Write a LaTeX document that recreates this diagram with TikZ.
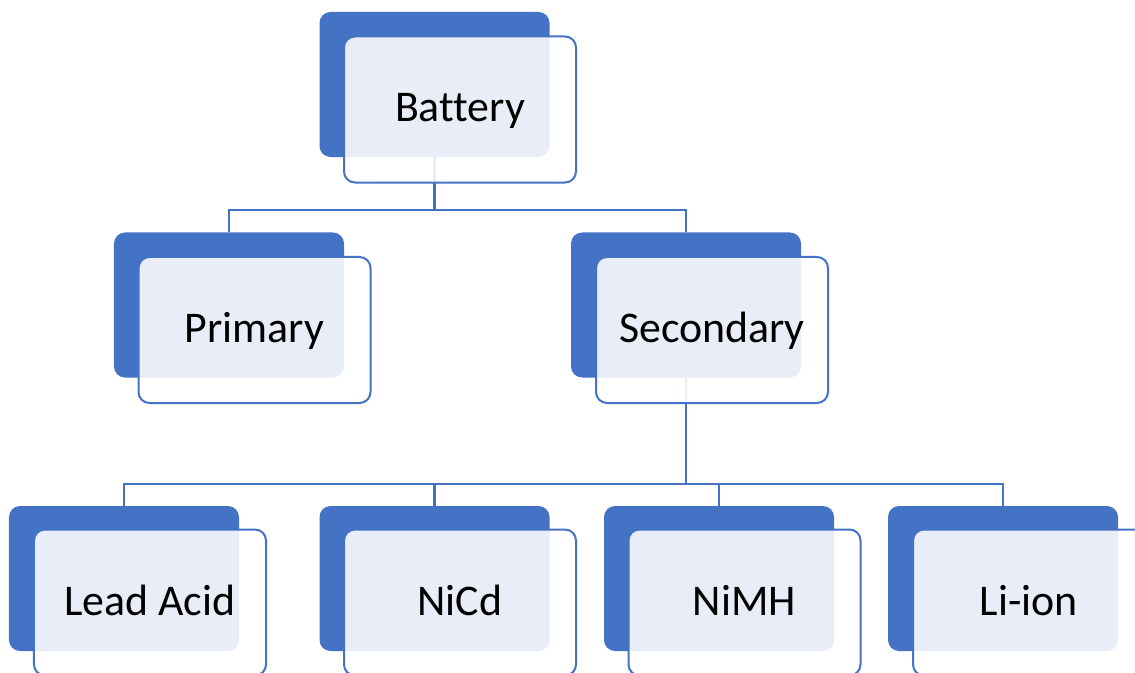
\documentclass[tikz,border=0pt]{standalone}
\usepackage{fontspec}
\setmainfont[Ligatures={NoCommon}]{Carlito}
\definecolor{obl}{HTML}{4472C4}
\begin{document}
\begin{tikzpicture}[x=1bp,y=-1bp,
  backbox/.style={rectangle,rounded corners=11bp,fill=obl,draw=none,inner sep=0,minimum width=230bp,minimum height=145bp},
  frontbox/.style={rectangle,rounded corners=11bp,draw=obl,line width=2bp,fill=white,fill opacity=0.88,draw opacity=1,inner sep=0,minimum width=232bp,minimum height=146bp},
  lbl/.style={anchor=base,inner sep=0,font=\fontsize{44}{50}\selectfont,text=black},
  conn/.style={draw=obl,line width=2.2bp}]
\clip (0,0) rectangle (1135,673);
% back boxes
\node[backbox] (batB) at (434.5,84.5) {};
\node[backbox] (priB) at (229,305) {};
\node[backbox] (secB) at (686,305) {};
\node[backbox] (leaB) at (124,578.5) {};
\node[backbox] (nicB) at (434.5,578.5) {};
\node[backbox] (nimB) at (719,578.5) {};
\node[backbox] (liB) at (1003,578.5) {};
% connectors
\coordinate (bus1) at (434.5,210);
\coordinate (bus2) at (686,484);
\draw[conn] (batB.south) -- (bus1) -| (priB.north);
\draw[conn] (bus1) -| (secB.north);
\draw[conn] (secB.south) -- (bus2) -| (leaB.north);
\draw[conn] (bus2) -| (nicB.north);
\draw[conn] (bus2) -| (nimB.north);
\draw[conn] (bus2) -| (liB.north);
% front boxes
\node[frontbox] (batF) at (460,109.5) {};
\node[frontbox] (priF) at (254.5,330) {};
\node[frontbox] (secF) at (712,330) {};
\node[frontbox] (leaF) at (150,602.5) {};
\node[frontbox] (nicF) at (460,602.5) {};
\node[frontbox] (nimF) at (744.5,602.5) {};
\node[frontbox] (liF) at (1029,602.5) {};
% labels
\node[lbl] (batT) at ([yshift=-12bp]batF.center) {Battery};
\node[lbl] (priT) at ([yshift=-12bp]priF.center) {Primary};
\node[lbl] (secT) at ([yshift=-12bp]secF.center) {Secondary};
\node[lbl] (leaT) at ([yshift=-13bp]leaF.center) {Lead Acid};
\node[lbl] (nicT) at ([yshift=-13bp]nicF.center) {NiCd};
\node[lbl] (nimT) at ([yshift=-13bp]nimF.center) {NiMH};
\node[lbl] (liT) at ([yshift=-13bp]liF.center) {Li-ion};
\end{tikzpicture}
\end{document}
